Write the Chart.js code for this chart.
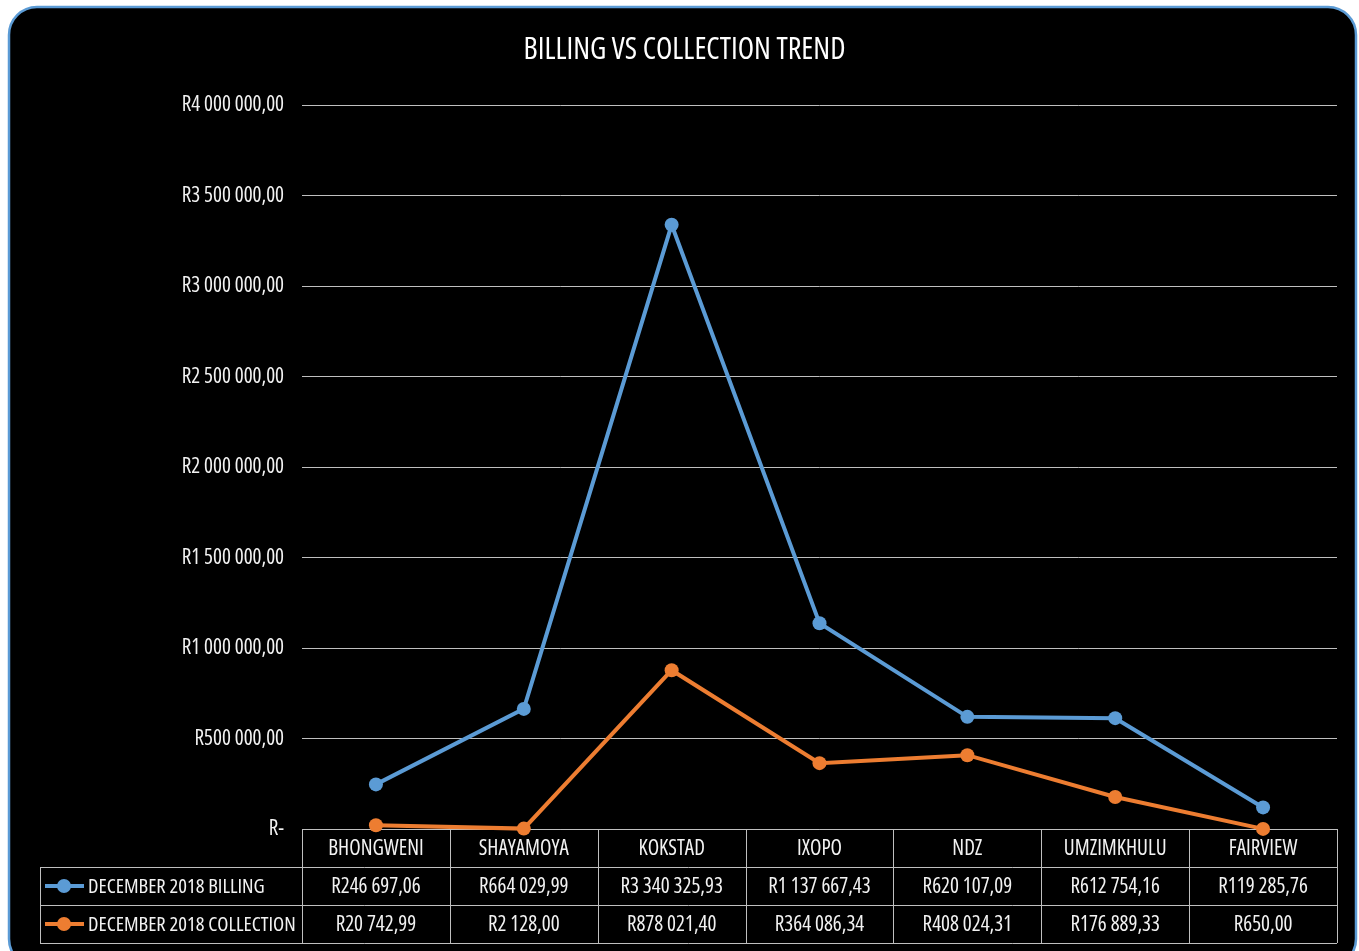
<!DOCTYPE html>
<html lang="en">
<head>
  <meta charset="UTF-8" />
  <title>Billing vs Collection Trend</title>
  <script src="https://cdn.jsdelivr.net/npm/chart.js"></script>
  <style>
    body {
      margin: 0;
      background: #fff;
    }
    canvas {
      display: block;
    }
  </style>
</head>
<body>
  <canvas id="trendChart" width="1359" height="951"></canvas>

  <script>
    const areas = ['BHONGWENI', 'SHAYAMOYA', 'KOKSTAD', 'IXOPO', 'NDZ', 'UMZIMKHULU', 'FAIRVIEW'];
    const billing = [246697.06, 664029.99, 3340325.93, 1137667.43, 620107.09, 612754.16, 119285.76];
    const collection = [20742.99, 2128.00, 878021.40, 364086.34, 408024.31, 176889.33, 650.00];
    const seriesNames = ['DECEMBER 2018 BILLING', 'DECEMBER 2018 COLLECTION'];

    // condensed Open Sans stands in for Calibri; "condensed" goes in the font shorthand
    const FONT = '"Open Sans", sans-serif';
    const STRETCH = 'condensed';
    const BLUE = '#5b9bd5';
    const ORANGE = '#ed7d31';
    const TEXT = '#f2f2f2';

    // rand format like Excel accounting: R1 234,56 / R-
    function rand(v) {
      if (v === 0) return 'R-';
      const parts = v.toFixed(2).split('.');
      return 'R' + parts[0].replace(/\B(?=(\d{3})+(?!\d))/g, ' ') + ',' + parts[1];
    }

    // black rounded panel behind everything
    const panel = {
      id: 'panel',
      beforeDraw(chart) {
        const c = chart.ctx;
        c.save();
        c.beginPath();
        c.roundRect(9, 7, 1347, 960, 28);
        c.fillStyle = '#000';
        c.fill();
        c.lineWidth = 2.5;
        c.strokeStyle = BLUE;
        c.stroke();
        c.restore();
      }
    };

    // data table under the plot
    const dataTable = {
      id: 'dataTable',
      beforeDatasetsDraw(chart) {
        const c = chart.ctx;
        const area = chart.chartArea;
        const x = chart.scales.x;
        const w = (area.right - area.left) / areas.length;
        const rowH = 38;
        const top = area.bottom;
        const legendLeft = 40;
        const rows = [billing, collection];
        const colors = [BLUE, ORANGE];

        c.save();
        c.strokeStyle = '#bfbfbf';
        c.lineWidth = 1;

        // horizontal lines
        c.beginPath();
        c.moveTo(area.left, top + 0.5);
        c.lineTo(area.right, top + 0.5);
        for (let r = 1; r <= 3; r++) {
          c.moveTo(legendLeft, top + r * rowH + 0.5);
          c.lineTo(area.right, top + r * rowH + 0.5);
        }
        // vertical lines
        for (let i = 0; i <= areas.length; i++) {
          const vx = Math.round(area.left + i * w) + 0.5;
          c.moveTo(vx, top);
          c.lineTo(vx, top + 3 * rowH);
        }
        c.moveTo(legendLeft + 0.5, top + rowH);
        c.lineTo(legendLeft + 0.5, top + 3 * rowH);
        c.stroke();

        c.fillStyle = TEXT;
        c.font = STRETCH + ' 21px ' + FONT;
        c.textAlign = 'center';
        c.textBaseline = 'middle';
        areas.forEach((name, i) => {
          const cx = x.getPixelForValue(i);
          c.fillText(name, cx, top + rowH / 2 + 1);
          rows.forEach((vals, r) => {
            c.fillText(rand(vals[i]), cx, top + (r + 1.5) * rowH + 1);
          });
        });

        // legend keys in the row headers
        c.font = STRETCH + ' 20.5px ' + FONT;
        rows.forEach((vals, r) => {
          const cy = top + (r + 1.5) * rowH;
          c.strokeStyle = colors[r];
          c.fillStyle = colors[r];
          c.lineWidth = 4;
          c.beginPath();
          c.moveTo(45, cy);
          c.lineTo(84, cy);
          c.stroke();
          c.beginPath();
          c.arc(64, cy, 7, 0, Math.PI * 2);
          c.fill();
          c.fillStyle = TEXT;
          c.textAlign = 'left';
          c.fillText(seriesNames[r], 88, cy + 1);
        });
        c.restore();
      }
    };

    new Chart(document.getElementById('trendChart'), {
      type: 'line',
      data: {
        labels: areas,
        datasets: [{
          label: seriesNames[0],
          data: billing,
          borderColor: BLUE,
          backgroundColor: BLUE,
          borderWidth: 4,
          pointRadius: 7,
          pointBorderWidth: 0,
          tension: 0,
          clip: false
        },
        {
          label: seriesNames[1],
          data: collection,
          borderColor: ORANGE,
          backgroundColor: ORANGE,
          borderWidth: 4,
          pointRadius: 7,
          pointBorderWidth: 0,
          tension: 0,
          clip: false
        }]
      },
      options: {
        responsive: false,
        animation: false,
        layout: { padding: { left: 32, right: 22, top: 0, bottom: 122 } },
        scales: {
          x: {
            type: 'category',
            offset: true,
            display: false
          },
          y: {
            min: 0,
            max: 4000000,
            ticks: {
              stepSize: 500000,
              color: TEXT,
              padding: 18,
              font: { family: FONT, size: 21, weight: STRETCH },
              callback: v => rand(v)
            },
            grid: { color: '#bfbfbf', drawTicks: false },
            border: { display: false },
            afterFit(scale) { scale.width = 270; }
          }
        },
        plugins: {
          legend: { display: false },
          tooltip: { enabled: false },
          title: {
            display: true,
            text: 'BILLING VS COLLECTION TREND',
            color: '#fff',
            font: { family: FONT, size: 30, weight: STRETCH, lineHeight: 1.2 },
            padding: { top: 32, bottom: 37.5 }
          }
        }
      },
      plugins: [panel, dataTable]
    });
  </script>
</body>
</html>
